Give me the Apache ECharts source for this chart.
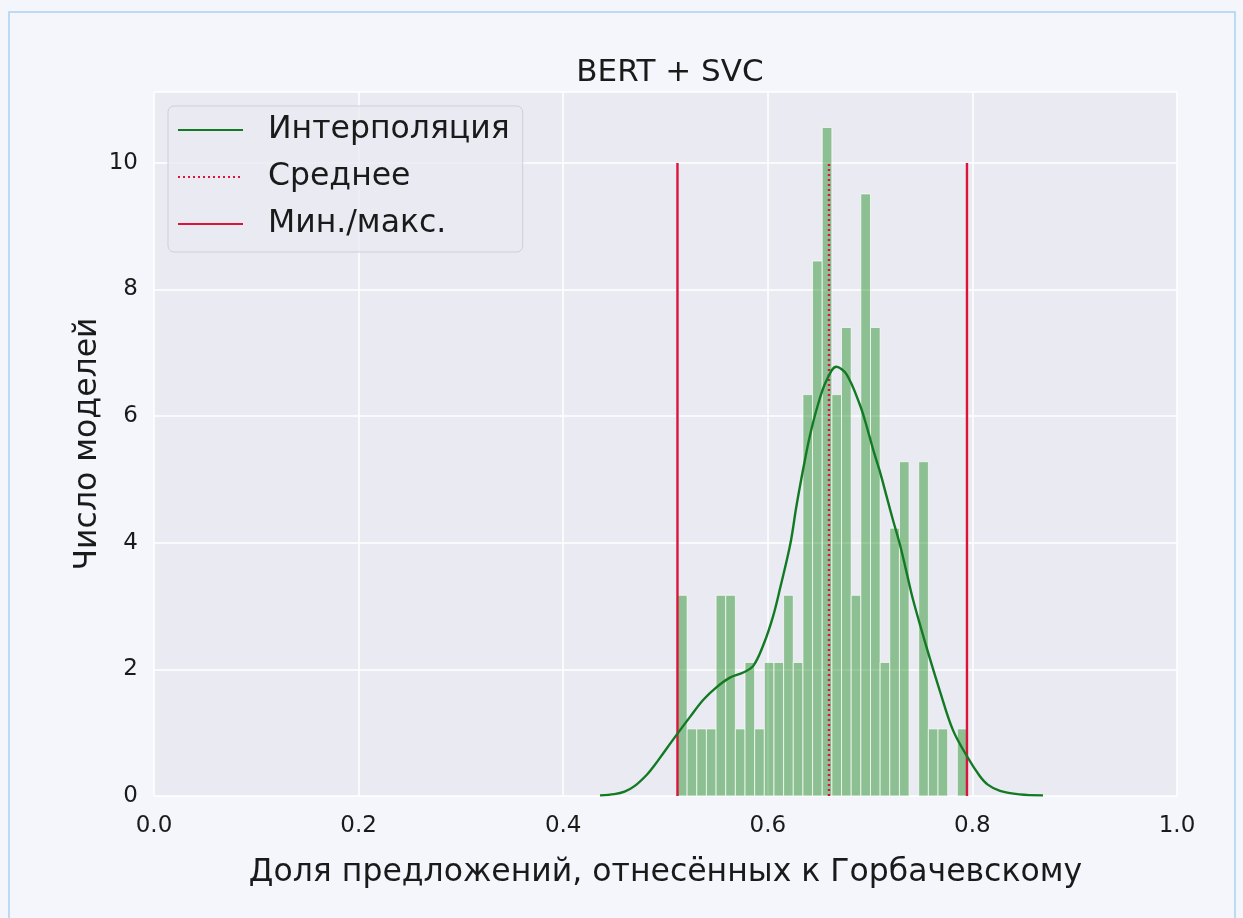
<!DOCTYPE html>
<html>
<head>
<meta charset="utf-8">
<script src="https://cdn.jsdelivr.net/npm/echarts@6/dist/echarts.min.js"></script>
<style>
html,body{margin:0;padding:0;background:#f4f6fb;}
#chart{width:1243px;height:918px;}
</style>
</head>
<body>
<div id="chart"></div>
<script>
// ---- data ----
const title = 'BERT + SVC';
const xLabel = 'Доля предложений, отнесённых к Горбачевскому';
const yLabel = 'Число моделей';
const minVal = 0.5117;
const maxVal = 0.7947;
const meanVal = 0.6598;
const lineTop = 10;
// histogram bar heights (30 equal bins between minVal and maxVal)
const binHeights = [3.17,1.06,1.06,1.06,3.17,3.17,1.06,2.11,1.06,2.11,
                    2.11,3.17,2.11,6.34,8.45,10.56,6.34,7.40,3.17,9.51,
                    7.40,2.11,4.23,5.28,0,5.28,1.06,1.06,0,1.06];
// interpolation curve (x, y)
const kdeX = [0.436,0.450,0.460,0.470,0.482,0.490,0.498,0.511,0.524,0.537,
              0.550,0.563,0.576,0.586,0.596,0.605,0.612,0.622,0.628,0.635,
              0.641,0.649,0.657,0.667,0.677,0.690,0.697,0.703,0.710,0.716,
              0.722,0.729,0.735,0.742,0.755,0.768,0.781,0.795,0.807,0.815,
              0.827,0.846,0.869];
const kdeY = [0.01,0.03,0.07,0.16,0.34,0.50,0.68,0.97,1.25,1.52,
              1.72,1.87,1.95,2.06,2.40,2.83,3.28,3.98,4.58,5.20,
              5.68,6.18,6.55,6.78,6.66,6.18,5.82,5.47,5.10,4.74,
              4.38,3.98,3.58,3.10,2.36,1.67,1.04,0.62,0.32,0.18,
              0.08,0.025,0.01];
const xTicks = [0.0,0.2,0.4,0.6,0.8,1.0];
const yTicks = [0,2,4,6,8,10];
const legendNames = ['Интерполяция','Среднее','Мин./макс.'];

// ---- build ----
const nBins = binHeights.length;
const binW = (maxVal - minVal) / nBins;
const histData = binHeights.map((h, i) => [minVal + i * binW, minVal + (i + 1) * binW, h]);
const kdeData = kdeX.map((x, i) => [x, kdeY[i]]);
const FONT = 'DejaVu Sans';
const TXT = '#1a1a1a';
const RED = '#dc143c';
const GREEN = '#137a24';

const chart = echarts.init(document.getElementById('chart'), null, {renderer: 'canvas'});
chart.setOption({
  backgroundColor: '#f4f6fb',
  animation: false,
  textStyle: {fontFamily: FONT, color: TXT},
  graphic: [{
    type: 'rect', silent: true, z: -10,
    shape: {x: 9, y: 12, width: 1226, height: 930},
    style: {fill: 'none', stroke: '#a9d1f2', lineWidth: 1.5}
  }],
  title: {
    text: title, left: 665, textAlign: 'center', top: 52,
    textStyle: {fontFamily: FONT, fontSize: 31, fontWeight: 'normal', color: TXT}
  },
  legend: {
    data: legendNames.map(n => ({name: n})),
    orient: 'vertical', left: 168, top: 106,
    padding: [8, 13, 12, 9],
    itemWidth: 65, itemHeight: 14, itemGap: 15,
    backgroundColor: 'rgba(234,234,242,0.85)',
    borderColor: '#cfcfd6', borderWidth: 1, borderRadius: 6,
    itemStyle: {opacity: 0},
    textStyle: {fontFamily: FONT, fontSize: 31.5, color: TXT, padding: [0,0,0,20]}
  },
  grid: {left: 154, right: 66, top: 92, bottom: 122, show: true, backgroundColor: '#eaeaf2', borderWidth: 0},
  xAxis: {
    type: 'value', min: 0, max: 1, interval: 0.2,
    name: xLabel, nameLocation: 'middle', nameGap: 61, nameMoveOverlap: false,
    nameTextStyle: {fontFamily: FONT, fontSize: 31.5, color: TXT},
    axisLine: {show: false}, axisTick: {show: false},
    axisLabel: {fontFamily: FONT, fontSize: 23, color: TXT, margin: 19,
                formatter: v => xTicks.some(t => Math.abs(t - v) < 1e-9) ? v.toFixed(1) : ''},
    splitLine: {show: true, lineStyle: {color: '#ffffff', width: 1.5}}
  },
  yAxis: {
    type: 'value', min: 0, max: 11.12, interval: 2,
    name: yLabel, nameLocation: 'middle', nameGap: 50, nameMoveOverlap: false,
    nameTextStyle: {fontFamily: FONT, fontSize: 31.5, color: TXT},
    axisLine: {show: false}, axisTick: {show: false},
    axisLabel: {fontFamily: FONT, fontSize: 23, color: TXT, margin: 16,
                formatter: v => yTicks.includes(v) ? String(v) : ''},
    splitLine: {show: true, lineStyle: {color: '#ffffff', width: 1.5}}
  },
  series: [
    {
      type: 'custom', name: 'hist', z: 2,
      data: histData,
      encode: {x: [0, 1], y: 2},
      renderItem: function (params, api) {
        const p0 = api.coord([api.value(0), api.value(2)]);
        const p1 = api.coord([api.value(1), 0]);
        if (api.value(2) <= 0) return null;
        return {
          type: 'rect',
          shape: {x: p0[0], y: p0[1], width: p1[0] - p0[0], height: p1[1] - p0[1]},
          style: {fill: 'rgba(0,128,0,0.40)', stroke: 'rgba(255,255,255,0.7)', lineWidth: 1}
        };
      }
    },
    {
      type: 'line', name: legendNames[1], z: 4,
      data: [[meanVal, 0], [meanVal, lineTop]],
      symbol: 'none',
      lineStyle: {color: RED, width: 2.4, type: [2, 3]},
      itemStyle: {color: RED}
    },
    {
      type: 'line', name: legendNames[2], z: 5,
      data: [[minVal, 0], [minVal, lineTop]],
      symbol: 'none',
      lineStyle: {color: RED, width: 2.4},
      itemStyle: {color: RED}
    },
    {
      type: 'line', name: legendNames[2], z: 5,
      data: [[maxVal, 0], [maxVal, lineTop]],
      symbol: 'none',
      lineStyle: {color: RED, width: 2.4},
      itemStyle: {color: RED}
    },
    {
      type: 'line', name: legendNames[0], z: 6,
      data: kdeData, smooth: 0.35,
      symbol: 'none',
      lineStyle: {color: GREEN, width: 2.4},
      itemStyle: {color: GREEN}
    }
  ]
});
</script>
</body>
</html>
